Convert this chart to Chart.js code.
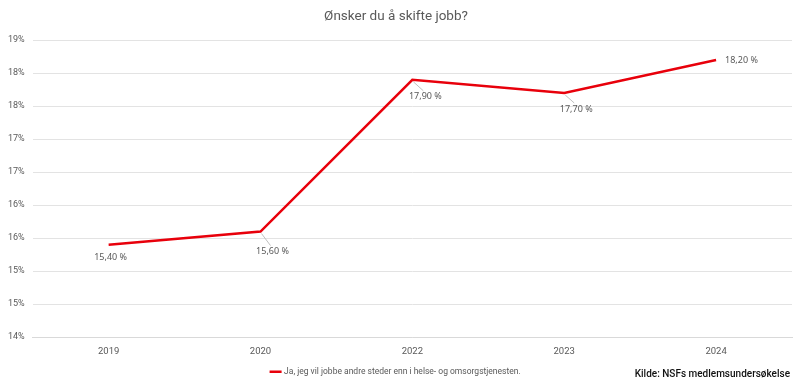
<!DOCTYPE html>
<html>
<head>
<meta charset="utf-8">
<script src="https://cdn.jsdelivr.net/npm/chart.js@4"></script>
<style>
  html, body { margin: 0; padding: 0; background: #fff; }
  #wrap { position: relative; width: 800px; height: 386px; }
  #source { position: absolute; right: 10px; top: 368px; font: 500 10px Roboto, sans-serif; color: #111; }
</style>
</head>
<body>
<div id="wrap">
  <canvas id="chart" width="800" height="386"></canvas>
  <div id="source">Kilde: NSFs medlemsundersøkelse</div>
</div>
<script>
const years = ["2019", "2020", "2022", "2023", "2024"];
const wantToLeave = [15.4, 15.6, 17.9, 17.7, 18.2];
const seriesName = "Ja, jeg vil jobbe andre steder enn i helse- og omsorgstjenesten.";

// label offset from point (text centre), and leader line end
const labelOffsets = [
  { dx: 2, dy: 13, align: "center" },
  { dx: 12, dy: 20, align: "center" },
  { dx: 13, dy: 17, align: "center" },
  { dx: 12, dy: 16, align: "center" },
  { dx: 9, dy: 0, align: "left" }
];

const dataLabels = {
  id: "dataLabels",
  afterDatasetsDraw(chart) {
    const ctx = chart.ctx;
    const meta = chart.getDatasetMeta(0);
    ctx.save();
    ctx.font = "9px 'Noto Sans', sans-serif";
    ctx.textBaseline = "middle";
    meta.data.forEach((pt, i) => {
      const o = labelOffsets[i];
      const tx = pt.x + o.dx, ty = pt.y + o.dy;
      if (o.dy > 14) {
        ctx.strokeStyle = "#bfbfbf";
        ctx.lineWidth = 1;
        ctx.beginPath();
        ctx.moveTo(pt.x + 1, pt.y + 2);
        ctx.lineTo(tx - 2, ty - 6);
        ctx.stroke();
      }
      ctx.fillStyle = "#595959";
      ctx.textAlign = o.align;
      ctx.fillText(wantToLeave[i].toFixed(2).replace(".", ",") + " %", tx, ty);
    });
    ctx.restore();
  }
};

new Chart(document.getElementById("chart").getContext("2d"), {
  type: "line",
  data: {
    labels: years,
    datasets: [{
      label: seriesName,
      data: wantToLeave,
      borderColor: "#e8000b",
      backgroundColor: "#e8000b",
      borderWidth: 2.5,
      pointRadius: 0,
      tension: 0
    }]
  },
  options: {
    responsive: false,
    animation: false,
    layout: { padding: { left: 0, right: 8, top: 4, bottom: 0 } },
    plugins: {
      title: {
        display: true,
        text: "Ønsker du å skifte jobb?",
        color: "#595959",
        font: { family: "Roboto, sans-serif", size: 13.5, weight: "normal" },
        padding: { top: 5, bottom: 15 }
      },
      legend: {
        position: "bottom",
        labels: {
          color: "#595959",
          font: { family: "Roboto, sans-serif", size: 8.5 },
          usePointStyle: true,
          pointStyle: "line",
          boxWidth: 18,
          padding: 3
        }
      },
      tooltip: { enabled: false }
    },
    scales: {
      x: {
        offset: true,
        grid: { display: false },
        border: { color: "#d9d9d9" },
        ticks: { color: "#595959", font: { family: "Roboto, sans-serif", size: 9.5 }, padding: 1 },
        afterFit: (scale) => { scale.height += 6; }
      },
      y: {
        min: 14,
        max: 18.5,
        border: { display: false },
        grid: { color: "#e3e3e3", drawTicks: false },
        ticks: {
          stepSize: 0.5,
          color: "#595959",
          font: { family: "Roboto, sans-serif", size: 9 },
          padding: 8,
          callback: (v) => Math.round(v) + "%"
        }
      }
    }
  },
  plugins: [dataLabels]
});
</script>
</body>
</html>
